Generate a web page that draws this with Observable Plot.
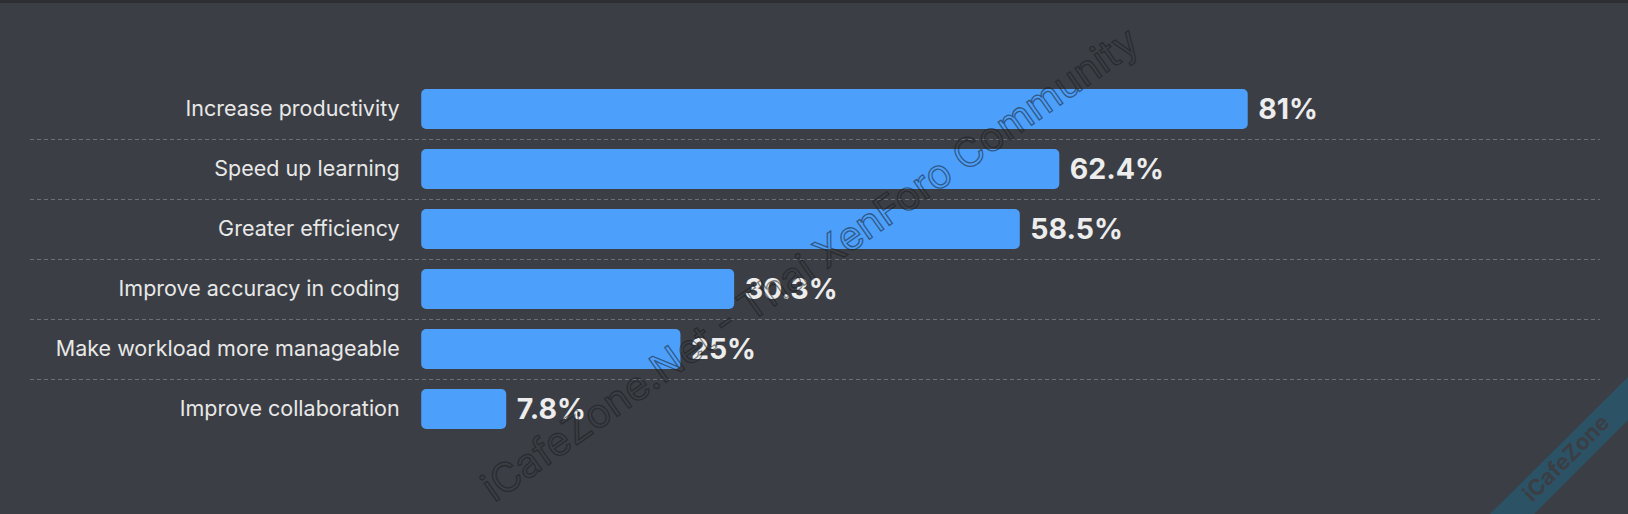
<!DOCTYPE html>
<html>
<head>
<meta charset="utf-8">
<script src="https://cdn.jsdelivr.net/npm/d3@7"></script>
<script src="https://cdn.jsdelivr.net/npm/@observablehq/plot@0.6"></script>
<style>
  html, body { margin: 0; padding: 0; background: #3b3e44; }
</style>
</head>
<body>
<div id="chart"></div>
<script>
const categories = [
  "Increase productivity",
  "Speed up learning",
  "Greater efficiency",
  "Improve accuracy in coding",
  "Make workload more manageable",
  "Improve collaboration"
];
const values = [81, 62.4, 58.5, 30.3, 25, 7.8];
const valueLabels = ["81%", "62.4%", "58.5%", "30.3%", "25%", "7.8%"];

const data = categories.map((c, i) => ({category: c, value: values[i], label: valueLabels[i]}));

const svg = Plot.plot({
  width: 1628,
  height: 514,
  marginLeft: 30,
  marginRight: 28,
  marginTop: 67,
  marginBottom: 64,
  style: {background: "#3b3e44", fontFamily: "Inter, 'Noto Sans', sans-serif", color: "#e8e8e8", overflow: "visible"},
  x: {domain: [0, 100], range: [427.2, 1440.2], axis: null},
  y: {domain: categories, padding: 1/3, axis: null},
  marks: [
    Plot.ruleY(categories.slice(0, -1), {y: d => d, dy: 30, stroke: "#6c6f74", strokeDasharray: "4,3", strokeWidth: 1}),
    Plot.barX(data, {x1: 0, x2: "value", y: "category", fill: "#4c9ffa", rx: 5, insetLeft: -6}),
    Plot.text(data, {x: 0, y: "category", text: "category", textAnchor: "end", dx: -28, fontSize: 21.5, fill: "#e8e8e8"}),
    Plot.text(data, {x: "value", y: "category", text: "label", textAnchor: "start", dx: 10, fontSize: 28.5, fontWeight: "bold", fill: "#ededed"})
  ]
});

const s = d3.select(svg);
// top dark strip
s.append("rect").attr("x", 0).attr("y", 0).attr("width", 1628).attr("height", 3).attr("fill", "#2c2e32");
// diagonal watermark
s.append("text")
  .attr("transform", "translate(810,264) rotate(-35.1)")
  .attr("text-anchor", "middle")
  .attr("dy", "0.35em")
  .attr("font-size", 40)
  .attr("font-family", "Inter, sans-serif")
  .attr("fill", "none")
  .attr("stroke", "rgba(25,27,30,0.55)")
  .attr("stroke-width", 1.3)
  .text("iCafeZone.Net - Thai XenForo Community");
// corner ribbon
s.append("polygon")
  .attr("points", "1628,377 1628,420 1534,514 1490,514")
  .attr("fill", "#2c5266");
s.append("text")
  .attr("transform", "translate(1566,458) rotate(-45)")
  .attr("text-anchor", "middle")
  .attr("dy", "0.35em")
  .attr("font-size", 22)
  .attr("font-weight", "bold")
  .attr("font-family", "Inter, sans-serif")
  .attr("fill", "#3b3e44")
  .text("iCafeZone");

document.getElementById("chart").appendChild(svg);
</script>
</body>
</html>
